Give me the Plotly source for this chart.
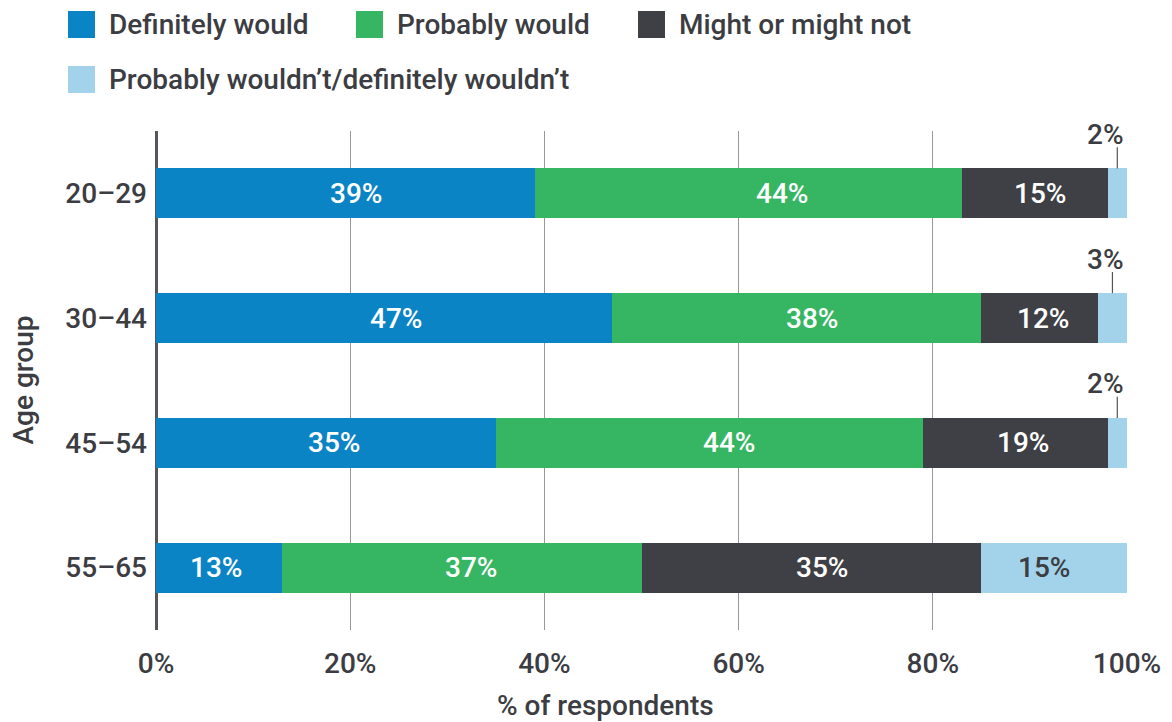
import plotly.graph_objects as go

# Survey results by age group (% of respondents)
age_groups = ["20–29", "30–44", "45–54", "55–65"]
definitely_would = [39, 47, 35, 13]
probably_would = [44, 38, 44, 37]
might_or_might_not = [15, 12, 19, 35]
probably_or_definitely_wouldnt = [2, 3, 2, 15]

series = [
    ("Definitely would", definitely_would, "#0B84C6", "white"),
    ("Probably would", probably_would, "#36B663", "white"),
    ("Might or might not", might_or_might_not, "#3F4045", "white"),
    ("Probably wouldn’t/definitely wouldn’t", probably_or_definitely_wouldnt, "#A3D3EA", "#3C3D42"),
]

# Horizontal nudge (px) of each in-bar label from its segment centre, per row
label_nudge = [
    [11, 34, 5, 0],
    [12, 15, 3, 0],
    [8, 20, 8, 0],
    [-3, 9, 11, -10],
]

FONT = "Roboto"
TEXT = "#3C3D42"
FS = 28
W = 500


def font(size=FS, color=TEXT):
    return dict(family=FONT, size=size, color=color, weight=W)


fig = go.Figure()
for name, vals, color, tcolor in series:
    fig.add_trace(go.Bar(
        y=age_groups, x=vals, name=name, orientation="h",
        marker=dict(color=color, line=dict(width=0)),
        showlegend=False, hoverinfo="x+y+name",
    ))

# In-bar value labels
for i, grp in enumerate(age_groups):
    start = 0
    for j, (name, vals, color, tcolor) in enumerate(series):
        v = vals[i]
        if v >= 5:
            fig.add_annotation(x=start + v / 2, y=grp, text=f"{v}%", showarrow=False,
                               xanchor="center", yanchor="middle",
                               xshift=label_nudge[i][j], font=font(FS, tcolor))
        start += v

# Small segments: value labelled above the bar with a short leader line
small = probably_or_definitely_wouldnt
cum_before = [a + b + c for a, b, c in zip(definitely_would, probably_would, might_or_might_not)]
for i, (v, start) in enumerate(zip(small, cum_before)):
    if v >= 5:
        continue
    mid = start + v / 2
    fig.add_shape(type="line", xref="x", yref="y",
                  x0=mid, x1=mid, y0=i - 0.2, y1=i - 0.37,
                  line=dict(color="#555555", width=1.2))
    fig.add_annotation(x=start + v, y=age_groups[i], text=f"{v}%", showarrow=False,
                       xanchor="right", yanchor="middle", xshift=-1, yshift=59,
                       font=font())

# Legend drawn as squares and labels above the plot
legend_items = [
    (series[0], 68, 1),
    (series[1], 356, 1),
    (series[2], 638, 1),
    (series[3], 68, 2),
]
plot_left, plot_w = 156, 971
plot_bottom, plot_h = 630, 499
for (name, _, color, _), px, row in legend_items:
    top = 11 if row == 1 else 66
    fig.add_shape(type="rect", xref="paper", yref="paper",
                  x0=(px - plot_left) / plot_w, x1=(px + 27 - plot_left) / plot_w,
                  y0=(plot_bottom - top - 27) / plot_h, y1=(plot_bottom - top) / plot_h,
                  line=dict(width=0), fillcolor=color)
    fig.add_annotation(xref="paper", yref="paper",
                       x=(px + 39 - plot_left) / plot_w, y=(plot_bottom - top - 13.5) / plot_h,
                       text=name, showarrow=False, xanchor="left", yanchor="middle",
                       font=font())

# Axis titles
fig.add_annotation(xref="paper", yref="paper", x=(605 - plot_left) / plot_w,
                   y=(plot_bottom - 705) / plot_h, text="% of respondents",
                   showarrow=False, xanchor="center", yanchor="middle", font=font())
fig.add_annotation(xref="paper", yref="paper", x=(23 - plot_left) / plot_w, y=0.5,
                   text="Age group", textangle=-90, showarrow=False,
                   xanchor="center", yanchor="middle", font=font())

fig.update_layout(
    barmode="stack", bargap=0.6,
    width=1172, height=722,
    margin=dict(l=156, r=45, t=131, b=92),
    plot_bgcolor="white", paper_bgcolor="white",
    font=font(),
)
fig.update_xaxes(
    range=[0, 100], dtick=20, ticksuffix="%",
    showgrid=True, gridcolor="#999999", gridwidth=1.2,
    zeroline=True, zerolinecolor="#55565A", zerolinewidth=2.5,
    showline=False, ticks="", ticklabelstandoff=14,
    tickfont=font(),
)
fig.update_yaxes(
    autorange="reversed", showgrid=False, zeroline=False, showline=False,
    ticks="", ticklabelstandoff=8,
    tickfont=font(),
)

fig.write_html("out.html")
